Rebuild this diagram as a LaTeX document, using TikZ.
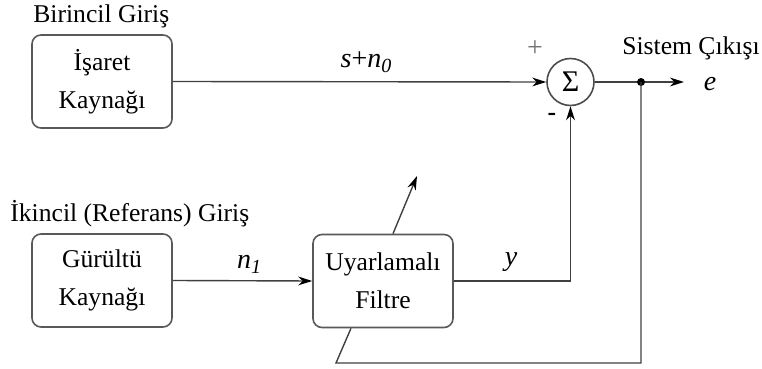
\documentclass[tikz,border=0pt]{standalone}
\usepackage{fontspec}
\setmainfont{Liberation Serif}
\usetikzlibrary{arrows.meta,calc}
\begin{document}
\begin{tikzpicture}[x=0.5pt,y=-0.5pt,
  line/.style={draw=black!75, line width=0.7pt},
  arr/.style={line, -{Stealth[length=7pt,width=4.4pt,fill=black,color=black]}},
  blk/.style={draw=black!65, line width=0.8pt, rounded corners=4.5pt, minimum width=70pt, minimum height=46.5pt, align=center, font=\fontsize{12.8}{19}\selectfont, inner sep=0pt},
  lbl/.style={font=\fontsize{12.8}{14}\selectfont, inner sep=0pt}]
\useasboundingbox (0,0) rectangle (762,369);
\node[blk] (src) at (102,81.5) {İşaret\\Kaynağı};
\node[blk] (noise) at (102,280.5) {Gürültü\\Kaynağı};
\node[blk] (filt) at (383,281) {Uyarlamalı\\Filtre};
\node[draw=black!70, line width=0.8pt, circle, minimum size=23.5pt, inner sep=0pt, font=\fontsize{15}{16}\selectfont] (sum) at (570.5,82) {Σ};
\coordinate (j) at (641,82);
\coordinate (eout) at (684,82);
\coordinate (fb) at (336,363);
\coordinate (adapt) at (417,176);
\node[lbl, anchor=west] (t1) at (33,16) {Birincil Giriş};
\node[lbl, anchor=west] (t2) at (10,214) {İkincil (Referans) Giriş};
\node[lbl] (tout) at (691,48) {Sistem Çıkışı};
\node[lbl, font=\fontsize{14}{14}\selectfont] (le) at (710,84) {\itshape e};
\node[lbl, font=\fontsize{14}{14}\selectfont] (lplus) at (535,49) {\textcolor{black!55}{+}};
\node[lbl] (lminus) at (552,117) {\bfseries -};
\node[lbl, font=\fontsize{14}{14}\selectfont] (lsn) at (366,62) {\itshape s\/\upshape +\itshape n\raisebox{-0.4ex}{\fontsize{10}{10}\selectfont\itshape 0}};
\node[lbl, font=\fontsize{14}{14}\selectfont] (ln1) at (249,264) {\itshape n\raisebox{-0.4ex}{\fontsize{10}{10}\selectfont\itshape 1}};
\node[lbl, font=\fontsize{14}{14}\selectfont] (ly) at (511,262) {\itshape y};
\draw[arr] (src.east) -- (sum.west);
\draw[arr] (noise.east) -- (filt.west);
\draw[arr] (filt.east) -| (sum.south);
\draw[line] (sum.east) -- (j);
\draw[arr] (j) -- (eout);
\fill[black] (j) circle (2pt);
\draw[line] (j) |- (fb) -- ([xshift=-16pt]filt.south);
\draw[arr] ([xshift=5pt]filt.north) -- (adapt);
\end{tikzpicture}
\end{document}
